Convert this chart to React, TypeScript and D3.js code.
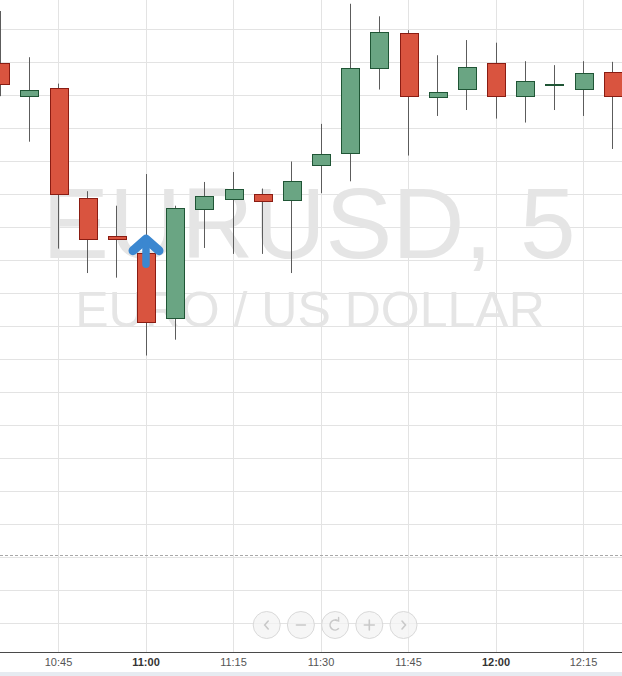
import React, { useEffect, useRef } from 'react';
import * as d3 from 'd3';

// 5-minute candles, EURUSD
const times = [
  '10:35', '10:40', '10:45', '10:50', '10:55', '11:00', '11:05', '11:10',
  '11:15', '11:20', '11:25', '11:30', '11:35', '11:40', '11:45', '11:50',
  '11:55', '12:00', '12:05', '12:10', '12:15', '12:20',
];
const opens = [
  1.13449, 1.13399, 1.13411, 1.13244, 1.13187, 1.13161, 1.13062, 1.13228,
  1.13244, 1.13251, 1.13241, 1.13296, 1.13312, 1.13441, 1.13494, 1.13397,
  1.13409, 1.13449, 1.13399, 1.13415, 1.13409, 1.13436,
];
const highs = [
  1.13528, 1.13458, 1.13418, 1.13255, 1.13233, 1.13281, 1.13233, 1.13269,
  1.13284, 1.13259, 1.133, 1.13357, 1.13539, 1.1352, 1.13499, 1.13461,
  1.13484, 1.1348, 1.13452, 1.13446, 1.13452, 1.13451,
];
const lows = [
  1.13399, 1.1333, 1.13168, 1.13131, 1.13124, 1.13006, 1.1303, 1.13169,
  1.1316, 1.1316, 1.13131, 1.13252, 1.1327, 1.13409, 1.13309, 1.13369,
  1.13378, 1.13365, 1.13359, 1.13378, 1.13369, 1.13319,
];
const closes = [
  1.13417, 1.13408, 1.1325, 1.13182, 1.13183, 1.13056, 1.13229, 1.13248,
  1.13259, 1.13241, 1.1327, 1.13312, 1.13441, 1.13496, 1.13399, 1.13405,
  1.13443, 1.13399, 1.13422, 1.13417, 1.13434, 1.13399,
];
const tickLabels = ['10:45', '11:00', '11:15', '11:30', '11:45', '12:00', '12:15'];
const boldLabels = ['11:00', '12:00'];
const lastPrice = 1.12703;
const signalTime = '11:00';
const navIcons = ['prev', 'minus', 'reset', 'plus', 'next'];

const toDate = (s: string) => {
  const [h, m] = s.split(':').map(Number);
  return new Date(2016, 0, 4, h, m);
};

const width = 622;
const height = 676;
const axisY = 652;

const App: React.FC = () => {
  const svgRef = useRef<SVGSVGElement>(null);

  useEffect(() => {
    if (!svgRef.current) return;
    const svg = d3.select(svgRef.current);
    svg.selectAll('*').remove();

    const x = d3
      .scaleTime()
      .domain([toDate('10:35'), toDate('12:20')])
      .range([0.17, 612.67]);

    // one grid step (0.0005) = 33px, top line 1.1350 at y 29.5
    const y = d3
      .scaleLinear()
      .domain([1.135 - ((axisY - 29.5) / 33) * 0.0005, 1.135])
      .range([axisY, 29.5]);

    const crisp = (v: number) => Math.floor(v) + 0.5;

    // grid
    const grid = svg.append('g');
    y.ticks(20).forEach((p) => {
      grid
        .append('line')
        .attr('x1', 0)
        .attr('x2', width)
        .attr('y1', crisp(y(p)))
        .attr('y2', crisp(y(p)))
        .attr('stroke', '#e3e3e3');
    });
    tickLabels.forEach((t) => {
      const xx = crisp(x(toDate(t)));
      grid
        .append('line')
        .attr('x1', xx)
        .attr('x2', xx)
        .attr('y1', 0)
        .attr('y2', axisY)
        .attr('stroke', '#e3e3e3');
    });

    // watermark
    const wm = svg
      .append('g')
      .style('font-family', "'Liberation Sans', Arial, sans-serif")
      .attr('fill', '#e5e5e5');
    wm.append('text').attr('x', 309).attr('y', 258).attr('text-anchor', 'middle').style('font-size', '100px').text('EURUSD, 5');
    wm.append('text').attr('x', 310).attr('y', 327).attr('text-anchor', 'middle').style('font-size', '50px').text('EURO / US DOLLAR');

    // last price line
    svg
      .append('line')
      .attr('x1', 0)
      .attr('x2', width)
      .attr('y1', crisp(y(lastPrice)))
      .attr('y2', crisp(y(lastPrice)))
      .attr('stroke', '#a8a8a8')
      .attr('stroke-dasharray', '3,2');

    // candles
    const candles = times.map((t, i) => ({
      t: toDate(t),
      o: opens[i],
      h: highs[i],
      l: lows[i],
      c: closes[i],
    }));
    const bodyW = 18;
    const cg = svg.append('g');
    candles.forEach((d) => {
      const cx = x(d.t);
      const up = d.c >= d.o;
      cg.append('line')
        .attr('x1', crisp(cx))
        .attr('x2', crisp(cx))
        .attr('y1', y(d.h))
        .attr('y2', y(d.l))
        .attr('stroke', '#5c5c5c');
      const top = y(Math.max(d.o, d.c));
      const bot = y(Math.min(d.o, d.c));
      cg.append('rect')
        .attr('x', Math.round(cx - bodyW / 2) + 0.5)
        .attr('y', Math.round(top) + 0.5)
        .attr('width', bodyW)
        .attr('height', Math.max(1, Math.round(bot - top)))
        .attr('fill', up ? '#6aa583' : '#d9543f')
        .attr('stroke', up ? '#1f5535' : '#8a1c12');
    });

    // signal arrow
    const sIdx = times.indexOf(signalTime);
    const ax = x(toDate(signalTime));
    const ay = y(opens[sIdx]) - 15;
    const arrow = svg
      .append('g')
      .attr('stroke', '#3b87d0')
      .attr('fill', 'none')
      .attr('stroke-linecap', 'round')
      .attr('stroke-linejoin', 'round');
    arrow
      .append('path')
      .attr('d', `M${ax - 13},${ay + 12.5}L${ax},${ay + 1}L${ax + 13},${ay + 12.5}`)
      .attr('stroke-width', 9);
    arrow
      .append('line')
      .attr('x1', ax)
      .attr('x2', ax)
      .attr('y1', ay + 4)
      .attr('y2', ay + 26)
      .attr('stroke-width', 7.5);

    // nav buttons
    const nav = svg.append('g');
    navIcons.forEach((icon, i) => {
      const bx = 266.7 + i * 34.2;
      const by = 625;
      nav.append('circle')
        .attr('cx', bx)
        .attr('cy', by)
        .attr('r', 13.5)
        .attr('fill', '#f3f3f3')
        .attr('fill-opacity', 0.75)
        .attr('stroke', '#d9d9d9');
      const ic = nav
        .append('g')
        .attr('stroke', '#c9c9c9')
        .attr('stroke-width', 1.6)
        .attr('fill', 'none')
        .attr('stroke-linecap', 'round');
      if (icon === 'prev') ic.append('path').attr('d', `M${bx + 1.5},${by - 4}L${bx - 2},${by}L${bx + 1.5},${by + 4}`);
      if (icon === 'next') ic.append('path').attr('d', `M${bx - 1.5},${by - 4}L${bx + 2},${by}L${bx - 1.5},${by + 4}`);
      if (icon === 'minus') ic.append('path').attr('d', `M${bx - 4.5},${by}H${bx + 4.5}`);
      if (icon === 'plus') ic.append('path').attr('d', `M${bx - 5},${by}H${bx + 5}M${bx},${by - 5}V${by + 5}`);
      if (icon === 'reset') {
        const arc = d3.arc()({ innerRadius: 5, outerRadius: 5, startAngle: 2.3, endAngle: 2 * Math.PI + 0.45 });
        ic.append('path').attr('d', arc).attr('transform', `translate(${bx},${by})`);
        ic.append('path')
          .attr('d', `M${bx + 0.5},${by - 5}L${bx + 3.5},${by - 4}L${bx + 3.5},${by - 7.5}`)
          .attr('stroke-width', 1.4);
      }
    });

    // time axis
    svg
      .append('line')
      .attr('x1', 0)
      .attr('x2', width)
      .attr('y1', axisY + 0.5)
      .attr('y2', axisY + 0.5)
      .attr('stroke', '#4a4a4a');
    const labels = svg
      .append('g')
      .style('font-family', "'Liberation Sans', Arial, sans-serif")
      .style('font-size', '11px');
    tickLabels.forEach((t) => {
      labels
        .append('text')
        .attr('x', x(toDate(t)))
        .attr('y', 666)
        .attr('text-anchor', 'middle')
        .attr('fill', boldLabels.includes(t) ? '#333' : '#555')
        .style('font-weight', boldLabels.includes(t) ? 'bold' : 'normal')
        .text(t);
    });
    svg.append('rect').attr('x', 0).attr('y', 672).attr('width', width).attr('height', 4).attr('fill', '#e6ebf1');
  }, []);

  return (
    <div style={{ width, height, overflow: 'hidden', background: '#fff' }}>
      <style>{'body{margin:0}'}</style>
      <svg ref={svgRef} width={width} height={height} style={{ display: 'block' }} />
    </div>
  );
};

export default App;
